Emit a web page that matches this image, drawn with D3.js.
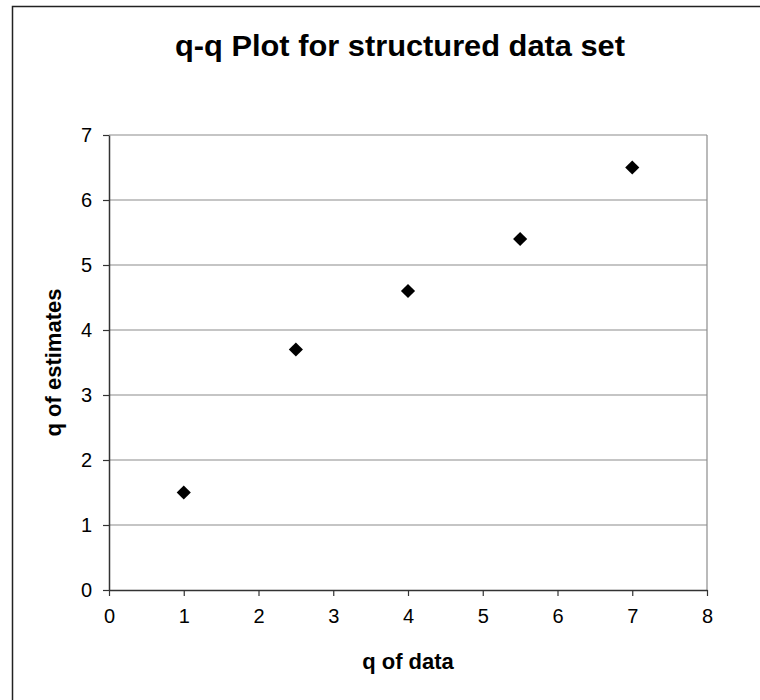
<!DOCTYPE html>
<html>
<head>
<meta charset="utf-8">
<script src="https://cdn.jsdelivr.net/npm/d3@7"></script>
<style>
  body { margin: 0; background: #fff; }
  svg { display: block; font-family: "Liberation Sans", Arial, sans-serif; }
</style>
</head>
<body>
<svg id="chart" width="760" height="700"></svg>
<script>
// --- Data ---
const qData = [1, 2.5, 4, 5.5, 7];
const qEstimates = [1.5, 3.7, 4.6, 5.4, 6.5];
const xTicks = [0, 1, 2, 3, 4, 5, 6, 7, 8];
const yTicks = [0, 1, 2, 3, 4, 5, 6, 7];

const svg = d3.select("#chart");
const margin = { left: 109, right: 53, top: 135, bottom: 110 };
const width = 760, height = 700;

// outer frame (only left/top visible in reference)
svg.append("rect")
    .attr("x", 12.5).attr("y", 6.5)
    .attr("width", 800).attr("height", 800)
    .attr("fill", "none").attr("stroke", "#222").attr("stroke-width", 1.5);

const x = d3.scaleLinear().domain([0, 8]).range([margin.left, width - margin.right]);
const y = d3.scaleLinear().domain([0, 7]).range([height - margin.bottom, margin.top]);

// --- Gridlines ---
svg.append("g")
    .selectAll("line")
    .data(yTicks.filter(d => d > 0))
    .enter().append("line")
    .attr("x1", x(0)).attr("x2", x(8))
    .attr("y1", d => y(d)).attr("y2", d => y(d))
    .attr("stroke", "#8c8c8c").attr("stroke-width", 1.2);

// right edge of plot area
svg.append("line")
    .attr("x1", x(8)).attr("x2", x(8))
    .attr("y1", y(0)).attr("y2", y(7))
    .attr("stroke", "#8c8c8c").attr("stroke-width", 1.2);

// --- Axes ---
const xAxis = svg.append("g")
    .attr("transform", `translate(0,${y(0)})`)
    .call(d3.axisBottom(x).tickValues(xTicks).tickFormat(d3.format("d"))
        .tickSize(6).tickPadding(13).tickSizeOuter(0));
const yAxis = svg.append("g")
    .attr("transform", `translate(${x(0)},0)`)
    .call(d3.axisLeft(y).tickValues(yTicks).tickFormat(d3.format("d"))
        .tickSize(6).tickPadding(11).tickSizeOuter(0));

[xAxis, yAxis].forEach(g => {
    g.attr("font-size", null).attr("font-family", null);
    g.select(".domain").attr("stroke", "#333").attr("stroke-width", 1.5);
    g.selectAll(".tick line").attr("stroke", "#333").attr("stroke-width", 1.2);
    g.selectAll(".tick text")
        .attr("fill", "#000")
        .attr("font-size", 20);
});

// --- Points ---
const diamond = d3.symbol().type(d3.symbolSquare).size(100);
svg.append("g")
    .selectAll("path")
    .data(qData.map((d, i) => ({ x: d, y: qEstimates[i] })))
    .enter().append("path")
    .attr("d", diamond)
    .attr("transform", d => `translate(${x(d.x)},${y(d.y)}) rotate(45)`)
    .attr("fill", "#000");

// --- Titles ---
const cx = (x(0) + x(8)) / 2;
svg.append("text")
    .attr("x", 175).attr("y", 56)
    .attr("textLength", 450).attr("lengthAdjust", "spacingAndGlyphs")
    .style("font-size", "30px").style("font-weight", "bold")
    .text("q-q Plot for structured data set");

svg.append("text")
    .attr("x", cx).attr("y", 669)
    .attr("text-anchor", "middle")
    .style("font-size", "22px").style("font-weight", "bold")
    .text("q of data");

svg.append("text")
    .attr("transform", `translate(61,${(y(0) + y(7)) / 2}) rotate(-90)`)
    .attr("text-anchor", "middle")
    .style("font-size", "22px").style("font-weight", "bold")
    .text("q of estimates");
</script>
</body>
</html>
